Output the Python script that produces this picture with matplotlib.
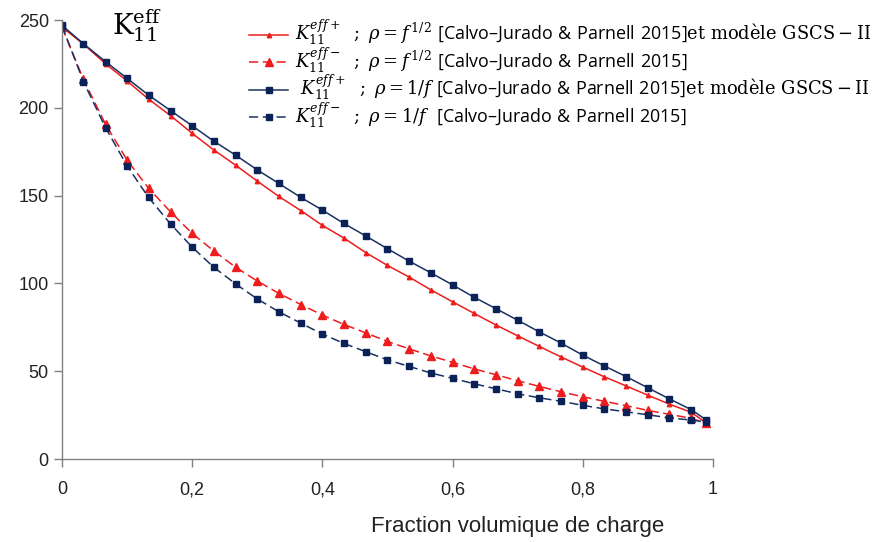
import numpy as np
import matplotlib
matplotlib.use("Agg")
from matplotlib import pyplot as plt

plt.rcParams['mathtext.fontset'] = 'custom'
plt.rcParams['mathtext.rm'] = 'DejaVu Serif'
plt.rcParams['mathtext.it'] = 'DejaVu Serif:italic'
plt.rcParams['mathtext.sf'] = 'Open Sans'

# fraction volumique de charge
f = [0, 0.033, 0.067, 0.1, 0.133, 0.167, 0.2, 0.233, 0.267, 0.3, 0.333,
     0.367, 0.4, 0.433, 0.467, 0.5, 0.533, 0.567, 0.6, 0.633, 0.667,
     0.7, 0.733, 0.767, 0.8, 0.833, 0.867, 0.9, 0.933, 0.967, 0.99]

# K11 eff +, rho = f^1/2 (GSCS-II)
k_plus_sqrt = [246, 236.3, 225.1, 215.3, 205, 195.5, 185.5, 176.1, 167.3, 158.3, 149.6,
               141.5, 133.1, 125.9, 117.5, 110.3, 103.7, 96.3, 89.6, 83, 76.3,
               70.2, 64.2, 58.1, 52.4, 46.9, 41.6, 36.4, 31.3, 26.6, 20.5]
# K11 eff -, rho = f^1/2
k_minus_sqrt = [246, 216.2, 190.6, 170.3, 154.2, 140.7, 128.5, 118.6, 109.2, 101.4, 94.4,
                88, 82, 76.7, 71.8, 67, 62.8, 58.7, 55.1, 51.4, 48,
                44.6, 41.4, 38.3, 35.5, 32.9, 30.4, 27.7, 25.5, 23.2, 20.3]
# K11 eff +, rho = 1/f (GSCS-II)
k_plus_inv = [247, 236.5, 226.3, 216.8, 207.3, 198.4, 189.8, 181.1, 173, 164.7, 157,
              149, 141.8, 134.2, 127, 119.8, 112.8, 106, 99.2, 92.2, 85.6,
              79.1, 72.5, 66, 59.2, 53.1, 46.9, 40.6, 34.3, 28.1, 22.2]
# K11 eff -, rho = 1/f
k_minus_inv = [246.8, 214.9, 188.7, 167, 149, 133.8, 120.7, 109.3, 99.7, 91.2, 83.9,
               77.4, 71.2, 65.9, 61.1, 56.5, 52.8, 49, 46, 42.9, 40,
               37.2, 34.9, 32.9, 30.6, 28.6, 26.9, 25.2, 23.5, 22.2, 21.2]

xticks = [0, 0.2, 0.4, 0.6, 0.8, 1]
xticklabels = ['0', '0,2', '0,4', '0,6', '0,8', '1']
yticks = [0, 50, 100, 150, 200, 250]

lab1 = r'$K_{11}^{eff+}\ \ ;\ \rho = f^{\,1/2}\ \mathsf{[Calvo–Jurado\ &\ Parnell\ 2015]}\mathrm{et\ modèle\ GSCS-II}$'
lab2 = r'$K_{11}^{eff-}\ \ ;\ \rho = f^{\,1/2}\ \mathsf{[Calvo–Jurado\ &\ Parnell\ 2015]}$'
lab3 = r'$\ K_{11}^{eff+}\ \ ;\ \rho = 1/f\ \mathsf{[Calvo–Jurado\ &\ Parnell\ 2015]}\mathrm{et\ modèle\ GSCS-II}$'
lab4 = r'$K_{11}^{eff-}\ \ ;\ \rho = 1/f\ \ \mathsf{[Calvo–Jurado\ &\ Parnell\ 2015]}$'

red = '#EE1C1C'
navy = '#1A3163'

fig = plt.figure(figsize=(8.79, 5.42), dpi=100)
ax = fig.add_axes([0.0705, 0.153, 0.7405, 0.81])

ax.plot(f, k_plus_sqrt, '-', color=red, lw=1.1, marker='^', ms=3.2, label=lab1)
ax.plot(f, k_minus_sqrt, '--', color=red, lw=1.1, marker='^', ms=5.5, dashes=(6, 3), label=lab2)
ax.plot(f, k_plus_inv, '-', color=navy, lw=1.1, marker='s', ms=4, mfc='#0B2258', mec='#0B2258', label=lab3)
ax.plot(f, k_minus_inv, '--', color=navy, lw=1.1, marker='s', ms=4, mfc='#0B2258', mec='#0B2258', dashes=(6, 3), label=lab4)

ax.set_xlim(0, 1)
ax.set_ylim(0, 250)
ax.set_xticks(xticks)
ax.set_xticklabels(xticklabels)
ax.set_yticks(yticks)
for s in ['top', 'right']:
    ax.spines[s].set_visible(False)
for s in ['left', 'bottom']:
    ax.spines[s].set_color('#808080')
    ax.spines[s].set_linewidth(1.0)
ax.tick_params(axis='both', colors='#808080', labelcolor='#222222', labelsize=13, length=6, width=1)
ax.tick_params(axis='x', pad=10)
for t in ax.get_xticklabels() + ax.get_yticklabels():
    t.set_fontfamily('Liberation Sans')

fig.text(0.589, 0.028, 'Fraction volumique de charge', fontsize=16, family='Liberation Sans',
         ha='center', va='center', color='#222222')
fig.text(0.127, 0.952, r'$\mathrm{K}_{11}^{\mathrm{eff}}$', fontsize=20, ha='left', va='center')

fig.legend(loc='upper left', bbox_to_anchor=(0.275, 0.978), frameon=False, fontsize=12.9,
           handlelength=2.2, handletextpad=0.4, labelspacing=-0.08, borderaxespad=0)

fig.savefig('out.png', dpi=100)
